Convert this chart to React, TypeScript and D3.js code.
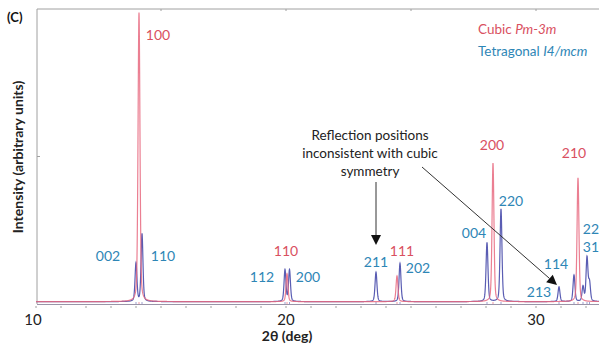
import React from 'react';
import * as d3 from 'd3';

// peak lists (2θ in deg, intensity in % of full scale)
const cubicHkl = ['100', '110', '111', '200', '210'];
const cubicPos = [14.12, 20.04, 24.44, 28.28, 31.68];
const cubicInt = [98, 9.5, 8.7, 47, 42];

const tetraHkl = ['002', '110', '112', '200', '211', '202', '004', '220', '213', '114', '', '310', ''];
const tetraPos = [14.0, 14.24, 19.96, 20.14, 23.6, 24.56, 28.04, 28.6, 30.92, 31.52, 31.88, 32.04, 32.14];
const tetraInt = [13, 23, 10.7, 10.7, 10, 13, 20, 31.4, 5, 9, 5, 14.8, 6.3];

// label anchors (deg, intensity)
const cubicLabelText = ['100', '110', '111', '200', '210'];
const cubicLabelDeg = [14.88, 20.0, 24.64, 28.24, 31.52];
const cubicLabelI = [91, 18, 18, 54, 51];

const tetraLabelText = ['002', '110', '112', '200', '211', '202', '004', '220', '213', '114', '222', '310'];
const tetraLabelDeg = [12.88, 15.08, 19.04, 20.88, 23.6, 25.28, 27.52, 29.0, 30.12, 30.8, 32.36, 32.36];
const tetraLabelI = [16.3, 16.3, 9.2, 9.2, 14.2, 12.2, 24.1, 34.9, 4.1, 13.6, 25.4, 19.3];

const xTicks = [10, 20, 30];
const xMinor = d3.range(10, 34, 1);
const topTicks = [15, 20, 25, 30];

const W = 599;
const H = 347;
const RED = '#e8697f';
const BLUE = '#5a5db3';
const RED_TXT = '#d9505f';
const BLUE_TXT = '#2e86b6';
const BASE = 0.8;
const FWHM = 0.09;
const ETA = 0.35;

function profile(x: number, pos: number[], ints: number[]) {
  let s = BASE;
  for (let i = 0; i < pos.length; i++) {
    const u = (x - pos[i]) / FWHM;
    const l = 1 / (1 + 4 * u * u);
    const g = Math.exp(-4 * Math.LN2 * u * u);
    s += ints[i] * (ETA * l + (1 - ETA) * g);
  }
  return s;
}

export default function App() {
  const x = d3.scaleLinear().domain([10, 33]).range([36, 611]);
  const y = d3.scaleLinear().domain([0, 100]).range([304, 9]);

  const grid = d3.range(10, 33, 0.005);
  const line = d3.line<number[]>().x(d => x(d[0])).y(d => y(d[1]));
  const bluePath = line(grid.map(t => [t, profile(t, tetraPos, tetraInt)])) || '';
  const redPath = line(grid.map(t => [t, profile(t, cubicPos, cubicInt)])) || '';

  const arrow = (x1: number, y1: number, x2: number, y2: number) => {
    const a = Math.atan2(y2 - y1, x2 - x1);
    const len = 10, half = 5;
    const bx = x2 - len * Math.cos(a), by = y2 - len * Math.sin(a);
    const px = -Math.sin(a) * half, py = Math.cos(a) * half;
    return (
      <g>
        <line x1={x1} y1={y1} x2={bx} y2={by} stroke="#333" strokeWidth={1} />
        <path d={`M${x2},${y2}L${bx + px},${by + py}L${bx - px},${by - py}Z`} fill="#111" />
      </g>
    );
  };

  const font = 'Lato, "Open Sans", sans-serif';

  return (
    <svg width={W} height={H} style={{ position: 'absolute', left: 0, top: 0, background: '#fff' }} fontFamily={font}>
      {/* frame */}
      <line x1={37} y1={9} x2={W} y2={9} stroke="#a0a0a0" strokeWidth={1} />
      <line x1={37} y1={9} x2={37} y2={304} stroke="#a0a0a0" strokeWidth={1} />
      <line x1={37} y1={y(50)} x2={40} y2={y(50)} stroke="#a0a0a0" />
      {topTicks.map(t => (
        <line key={'tt' + t} x1={x(t)} y1={9} x2={x(t)} y2={11} stroke="#a0a0a0" />
      ))}

      {/* spectra */}
      <path d={bluePath} fill="none" stroke={BLUE} strokeWidth={1.2} />
      <path d={redPath} fill="none" stroke={RED} strokeWidth={1.2} strokeOpacity={0.85} />

      {/* reflection markers */}
      {tetraPos.map((p, i) => (
        <line key={'tm' + i} x1={x(p)} y1={302} x2={x(p)} y2={305} stroke={BLUE} strokeOpacity={0.6} />
      ))}
      {cubicPos.map((p, i) => (
        <line key={'cm' + i} x1={x(p)} y1={302} x2={x(p)} y2={305} stroke={RED} strokeOpacity={0.7} />
      ))}

      {/* x axis */}
      <line x1={37} y1={304.5} x2={W} y2={304.5} stroke="#9a94a8" strokeWidth={1.2} />
      {xMinor.map(t => (
        <line key={'mt' + t} x1={x(t)} y1={306} x2={x(t)} y2={308} stroke="#a0a0a0" />
      ))}
      {xTicks.map(t => (
        <text key={'xt' + t} x={x(t) - (t === 10 ? 3 : 0)} y={325} textAnchor="middle" fontSize={15} fill="#222">
          {t}
        </text>
      ))}
      <text x={287} y={341} textAnchor="middle" fontSize={14} fontWeight="bold" fill="#222">
        2θ (deg)
      </text>
      <text
        transform={`translate(23,157) rotate(-90)`}
        textAnchor="middle"
        fontSize={14}
        fontWeight="bold"
        fill="#222"
      >
        Intensity (arbitrary units)
      </text>
      <text x={7} y={22} fontSize={13} fontWeight="bold" fill="#111">(C)</text>

      {/* peak labels */}
      {cubicLabelText.map((s, i) => (
        <text key={'cl' + i} x={x(cubicLabelDeg[i])} y={y(cubicLabelI[i])} dy="0.35em" textAnchor="middle" fontSize={14} fill={RED_TXT}>
          {s}
        </text>
      ))}
      {tetraLabelText.map((s, i) => (
        <text key={'tl' + i} x={x(tetraLabelDeg[i])} y={y(tetraLabelI[i])} dy="0.35em" textAnchor="middle" fontSize={14} fill={BLUE_TXT}>
          {s}
        </text>
      ))}

      {/* legend */}
      <text x={478} y={34} fontSize={13.5} fill={RED_TXT}>
        Cubic <tspan fontStyle="italic">Pm-3m</tspan>
      </text>
      <text x={478} y={56} fontSize={13.5} fill={BLUE_TXT}>
        Tetragonal <tspan fontStyle="italic">I4/mcm</tspan>
      </text>

      {/* annotation */}
      <g fontSize={13.5} fill="#222" textAnchor="middle">
        <text x={370} y={140}>Reflection positions</text>
        <text x={370} y={158}>inconsistent with cubic</text>
        <text x={370} y={176}>symmetry</text>
      </g>
      {arrow(376, 182, 376, 245)}
      {arrow(422, 167, 557, 285)}
    </svg>
  );
}
